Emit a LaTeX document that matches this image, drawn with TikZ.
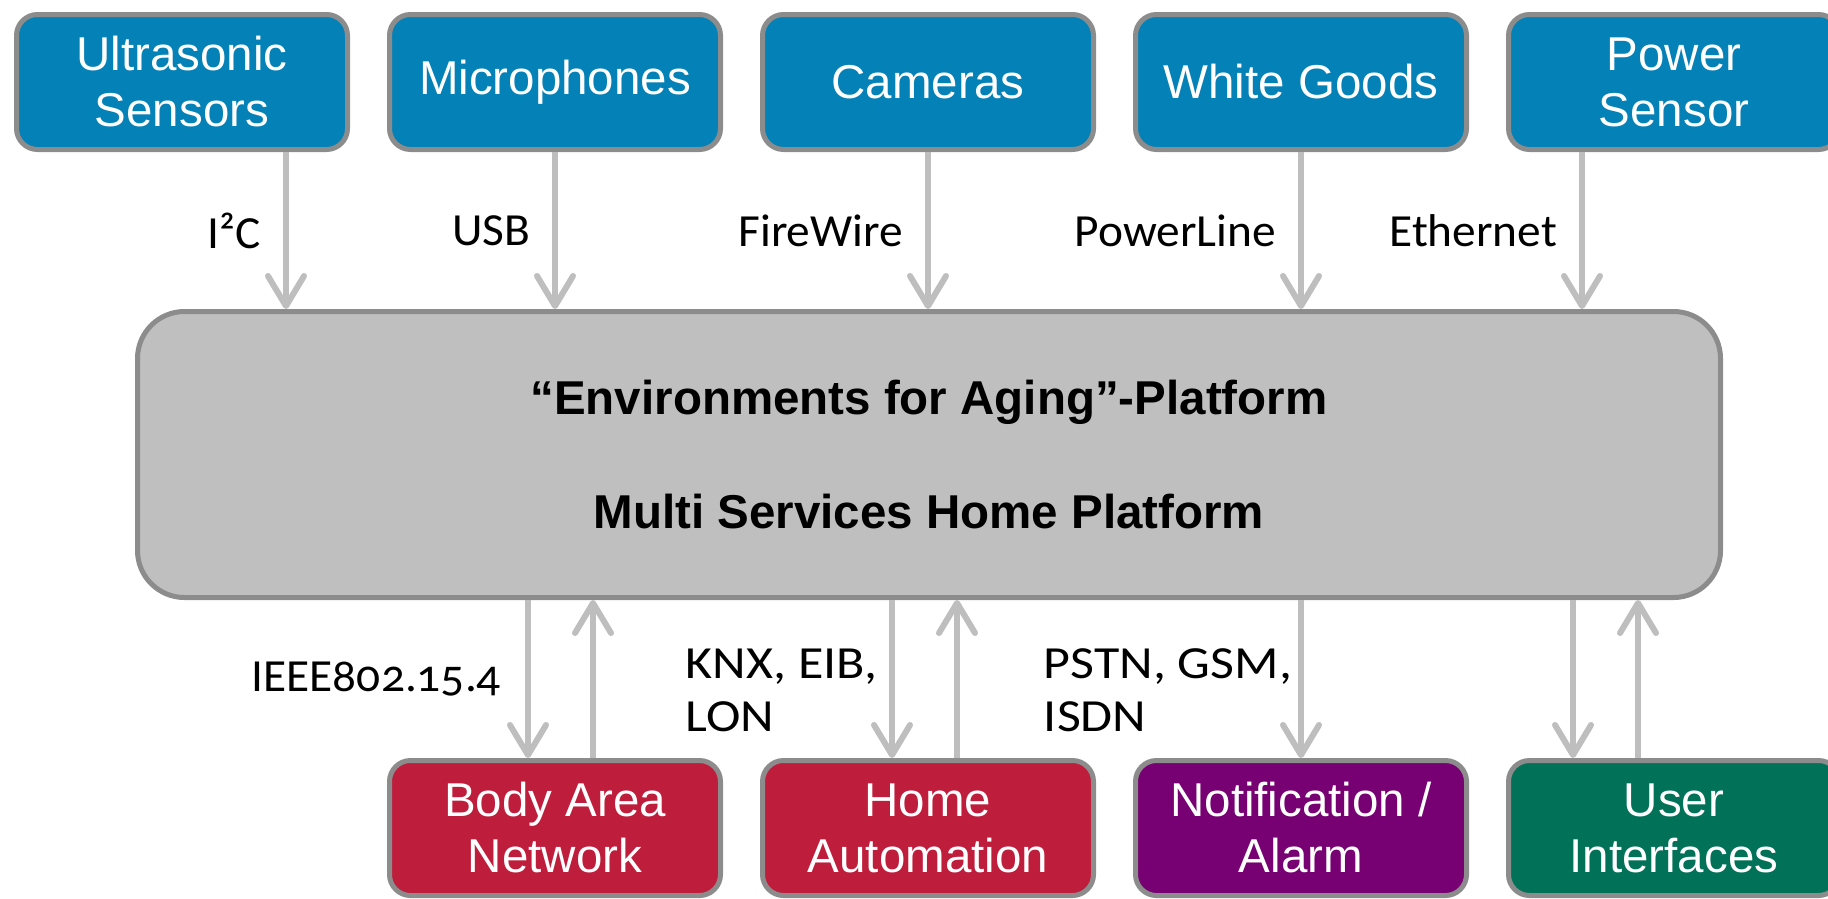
\documentclass[tikz,border=0pt]{standalone}
\usepackage{fontspec}
\setmainfont{Liberation Sans}
\newfontfamily\busfont[Numbers=OldStyle,FakeStretch=1.03]{Carlito}
\newfontfamily\widebusfont[Numbers=OldStyle,FakeStretch=1.13]{Carlito}
\usetikzlibrary{arrows.meta}
\definecolor{sensorblue}{HTML}{0481B6}
\definecolor{actorred}{HTML}{BF1D3C}
\definecolor{alarmpurple}{HTML}{770072}
\definecolor{uigreen}{HTML}{017258}
\definecolor{rimgray}{HTML}{8C8C8C}
\definecolor{linkgray}{HTML}{BEBEBE}
\definecolor{coregray}{HTML}{BFBFBF}
\tikzset{
  unit/.style={draw=rimgray, line width=5pt, rounded corners=21pt, minimum width=331pt,
    minimum height=135pt, inner sep=0pt, align=center, text=white,
    font=\fontsize{47.5}{56}\selectfont},
  link/.style={draw=linkgray, line width=6pt, -{Straight Barb[round,length=30pt,width=36pt]}},
  bus/.style={inner sep=0pt, align=left, font=\busfont\fontsize{46}{53}\selectfont},
  widebus/.style={bus, font=\widebusfont\fontsize{46}{53}\selectfont}
}

\begin{document}
\begin{tikzpicture}[x=1pt,y=-1pt] %home platform
\useasboundingbox (0,0) rectangle (1828,898);
% sensors
\node[unit, fill=sensorblue] (usonic) at (182,82) {Ultrasonic\\Sensors};
\node[unit, fill=sensorblue] (mic) at (555,82) {Microphones};
\node[unit, fill=sensorblue] (cam) at (928,82) {Cameras};
\node[unit, fill=sensorblue] (wgoods) at (1301,82) {White Goods};
\node[unit, fill=sensorblue] (psensor) at (1674,82) {Power\\Sensor};
% platform
\node[unit, fill=coregray, text=black, minimum width=1583pt, minimum height=286pt, rounded corners=47pt,
  font=\bfseries\fontsize{47.5}{57}\selectfont] (core) at (929,454.5)
  {“Environments for Aging”-Platform\\[57pt]Multi Services Home Platform};
% actors
\node[unit, fill=actorred] (ban) at (555,828) {Body Area\\Network};
\node[unit, fill=actorred] (homeaut) at (928,828) {Home\\Automation};
\node[unit, fill=alarmpurple] (notif) at (1301,828) {Notification /\\Alarm};
\node[unit, fill=uigreen] (ui) at (1674,828) {User\\Interfaces};
% inputs
\draw[link] ([xshift=104pt]usonic.south) -- node[bus, left=22pt] {I²C} ([xshift=104pt]usonic.south |- core.north);
\draw[link] (mic.south) -- node[bus, left=22pt] {USB} (mic.south |- core.north);
\draw[link] (cam.south) -- node[bus, left=22pt] {FireWire} (cam.south |- core.north);
\draw[link] (wgoods.south) -- node[bus, left=22pt] {PowerLine} (wgoods.south |- core.north);
\draw[link] ([xshift=-92pt]psensor.south) -- node[bus, left=22pt] {Ethernet} ([xshift=-92pt]psensor.south |- core.north);
% outputs and back channels
\draw[link] ([xshift=-27pt]ban.north |- core.south) -- node[bus, left=24pt] {IEEE802.15.4} ([xshift=-27pt]ban.north);
\draw[link] ([xshift=38pt]ban.north) -- ([xshift=38pt]ban.north |- core.south);
\draw[link] ([xshift=-36pt]homeaut.north |- core.south) -- node[widebus, left=12pt, yshift=-11pt] {KNX, EIB,\\LON} ([xshift=-36pt]homeaut.north);
\draw[link] ([xshift=29pt]homeaut.north) -- ([xshift=29pt]homeaut.north |- core.south);
\draw[link] (notif.north |- core.south) -- node[widebus, left=6pt, yshift=-11pt] {PSTN, GSM,\\ISDN} (notif.north);
\draw[link] ([xshift=-101pt]ui.north |- core.south) -- ([xshift=-101pt]ui.north);
\draw[link] ([xshift=-36pt]ui.north) -- ([xshift=-36pt]ui.north |- core.south);
\end{tikzpicture}
\end{document}
